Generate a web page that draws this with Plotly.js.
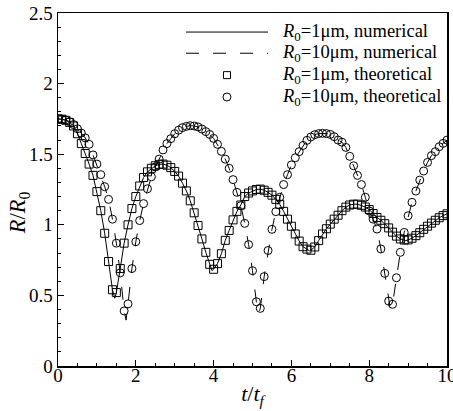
<!DOCTYPE html>
<html>
<head>
<meta charset="utf-8">
<script src="https://cdn.plot.ly/plotly-3.0.1.min.js"></script>
<style>html,body{margin:0;padding:0;background:#fff;}</style>
</head>
<body>
<div id="chart" style="width:453px;height:411px;"></div>
<script>
// time axis t/t_f (theoretical sampling)
const tTheo = [0.0,0.1,0.2,0.3,0.4,0.5,0.6,0.7,0.8,0.9,1.0,1.1,1.2,1.3,1.4,1.5,1.6,1.7,1.8,1.9,
  2.0,2.1,2.2,2.3,2.4,2.5,2.6,2.7,2.8,2.9,3.0,3.1,3.2,3.3,3.4,3.5,3.6,3.7,3.8,3.9,
  4.0,4.1,4.2,4.3,4.4,4.5,4.6,4.7,4.8,4.9,5.0,5.1,5.2,5.3,5.4,5.5,5.6,5.7,5.8,5.9,
  6.0,6.1,6.2,6.3,6.4,6.5,6.6,6.7,6.8,6.9,7.0,7.1,7.2,7.3,7.4,7.5,7.6,7.7,7.8,7.9,
  8.0,8.1,8.2,8.3,8.4,8.5,8.6,8.7,8.8,8.9,9.0,9.1,9.2,9.3,9.4,9.5,9.6,9.7,9.8,9.9,10.0];

// R/R0, R0 = 1 um, theoretical
const r1Theo = [1.750,1.748,1.740,1.725,1.700,1.645,1.575,1.505,1.430,1.350,
  1.235,1.100,0.940,0.740,0.540,0.520,0.690,0.870,1.000,1.115,
  1.200,1.275,1.335,1.375,1.400,1.418,1.428,1.430,1.422,1.405,
  1.378,1.345,1.295,1.240,1.170,1.085,0.995,0.900,0.805,0.720,
  0.685,0.725,0.795,0.890,0.960,1.035,1.095,1.140,1.200,1.225,
  1.240,1.250,1.253,1.245,1.230,1.210,1.180,1.145,1.095,1.040,
  0.990,0.935,0.885,0.845,0.828,0.820,0.843,0.888,0.935,0.972,
  1.005,1.040,1.068,1.100,1.125,1.140,1.146,1.146,1.138,1.126,
  1.108,1.080,1.052,1.032,1.008,0.978,0.948,0.920,0.900,0.892,
  0.893,0.905,0.923,0.944,0.968,0.990,1.012,1.032,1.050,1.065,1.078];

// R/R0, R0 = 10 um, theoretical
const r10Theo = [1.750,1.748,1.742,1.730,1.710,1.680,1.650,1.615,1.570,1.495,
  1.430,1.355,1.270,1.180,1.040,0.870,0.660,0.390,0.440,0.690,
  0.880,1.030,1.150,1.255,1.340,1.410,1.465,1.530,1.575,1.610,
  1.645,1.670,1.688,1.697,1.702,1.700,1.693,1.678,1.660,1.640,
  1.612,1.570,1.520,1.465,1.400,1.320,1.230,1.135,1.010,0.860,
  0.675,0.455,0.408,0.633,0.818,0.968,1.093,1.195,1.285,1.355,
  1.424,1.475,1.518,1.562,1.598,1.622,1.638,1.646,1.648,1.646,
  1.640,1.624,1.600,1.585,1.548,1.485,1.418,1.350,1.285,1.195,
  1.098,1.040,0.970,0.829,0.656,0.460,0.437,0.625,0.805,0.946,
  1.064,1.159,1.239,1.317,1.381,1.442,1.490,1.518,1.553,1.577,1.600];

// numerical solutions: same sampling plus the resolved minima
const tMin1 = [1.46, 3.96, 6.47, 8.94];
const rMin1 = [0.480, 0.675, 0.815, 0.888];
const tMin10 = [1.75, 5.16, 8.54];
const rMin10 = [0.325, 0.372, 0.410];

const legendNames = [
  '<i>R</i><sub>0</sub>=1μm, numerical',
  '<i>R</i><sub>0</sub>=10μm, numerical',
  '<i>R</i><sub>0</sub>=1μm, theoretical',
  '<i>R</i><sub>0</sub>=10μm, theoretical'
];

function merge(ts, rs, tm, rm) {
  const pts = ts.map((t, i) => [t, rs[i]]).concat(tm.map((t, i) => [t, rm[i]]));
  pts.sort((a, b) => a[0] - b[0]);
  return {x: pts.map(p => p[0]), y: pts.map(p => p[1])};
}
const num1 = merge(tTheo, r1Theo, tMin1, rMin1);
const num10 = merge(tTheo, r10Theo, tMin10, rMin10);

const serif = "'Liberation Serif', 'Times New Roman', Times, serif";
const DASH = '13px,14px';

const traces = [
  {x: num1.x, y: num1.y, mode: 'lines', name: legendNames[0], showlegend: false,
   line: {color: '#000', width: 1}},
  {x: num10.x, y: num10.y, mode: 'lines', name: legendNames[1], showlegend: false,
   line: {color: '#000', width: 1, dash: DASH}},
  {x: tTheo, y: r1Theo, mode: 'markers', name: legendNames[2], showlegend: false,
   marker: {symbol: 'square-open', size: 8, color: '#000', line: {width: 1, color: '#000'}}},
  {x: tTheo, y: r10Theo, mode: 'markers', name: legendNames[3], showlegend: false,
   marker: {symbol: 'circle-open', size: 8, color: '#000', line: {width: 1, color: '#000'}}}
];

// legend key drawn in paper space
const legRowsY = [0.946, 0.886, 0.824, 0.762];
const legLineX = [0.329, 0.540];
const legMarkX = 0.4344;
const legTextX = 0.5707;

const shapes = [
  {type: 'line', xref: 'paper', yref: 'paper', x0: legLineX[0], x1: legLineX[1], y0: legRowsY[0], y1: legRowsY[0],
   line: {color: '#000', width: 1}},
  {type: 'line', xref: 'paper', yref: 'paper', x0: legLineX[0], x1: legLineX[1], y0: legRowsY[1], y1: legRowsY[1],
   line: {color: '#000', width: 1, dash: DASH}},
  {type: 'rect', xref: 'paper', yref: 'paper', xsizemode: 'pixel', ysizemode: 'pixel',
   xanchor: legMarkX, yanchor: legRowsY[2], x0: -3.5, x1: 3.5, y0: -3.5, y1: 3.5,
   line: {color: '#000', width: 1}},
  {type: 'circle', xref: 'paper', yref: 'paper', xsizemode: 'pixel', ysizemode: 'pixel',
   xanchor: legMarkX, yanchor: legRowsY[3], x0: -4, x1: 4, y0: -4, y1: 4,
   line: {color: '#000', width: 1}}
];

const annotations = legendNames.map((name, i) => ({
  text: name, xref: 'paper', yref: 'paper', x: legTextX, y: legRowsY[i],
  xanchor: 'left', yanchor: 'middle', showarrow: false,
  font: {family: serif, size: 18.5, color: '#000'}
}));
annotations.push({
  text: '<i>R</i>/<i>R</i><sub>0</sub>', xref: 'paper', yref: 'paper',
  x: -0.098, y: 0.435, xanchor: 'center', yanchor: 'middle', textangle: -90,
  showarrow: false, font: {family: serif, size: 22.5, color: '#000'}
});

const layout = {
  width: 453, height: 411,
  margin: {l: 58, r: 6, t: 13, b: 45},
  paper_bgcolor: '#fff', plot_bgcolor: '#fff',
  font: {family: serif, color: '#000', size: 18},
  showlegend: false,
  xaxis: {
    range: [0, 10], dtick: 2, tick0: 0,
    ticks: 'inside', ticklen: 6, tickwidth: 1, tickcolor: '#000',
    minor: {dtick: 0.5, ticks: 'inside', ticklen: 3, tickwidth: 1, tickcolor: '#000'},
    showline: true, linecolor: '#000', linewidth: 1.5, mirror: true,
    showgrid: false, zeroline: false, ticklabeloverflow: 'allow',
    ticklabelstandoff: -8,
    tickfont: {family: serif, size: 19, color: '#000'},
    title: {text: '<i>t</i>/<i>t</i><sub><i>f</i></sub>', font: {family: serif, size: 22, color: '#000'}, standoff: 0}
  },
  yaxis: {
    range: [0, 2.5], dtick: 0.5, tick0: 0,
    ticks: 'inside', ticklen: 6, tickwidth: 1, tickcolor: '#000',
    minor: {dtick: 0.1, ticks: 'inside', ticklen: 3, tickwidth: 1, tickcolor: '#000'},
    showline: true, linecolor: '#000', linewidth: 1.5, mirror: true,
    showgrid: false, zeroline: false,
    tickfont: {family: serif, size: 19, color: '#000'}
  },
  shapes: shapes,
  annotations: annotations
};

Plotly.newPlot('chart', traces, layout, {displayModeBar: false, staticPlot: true});
</script>
</body>
</html>
